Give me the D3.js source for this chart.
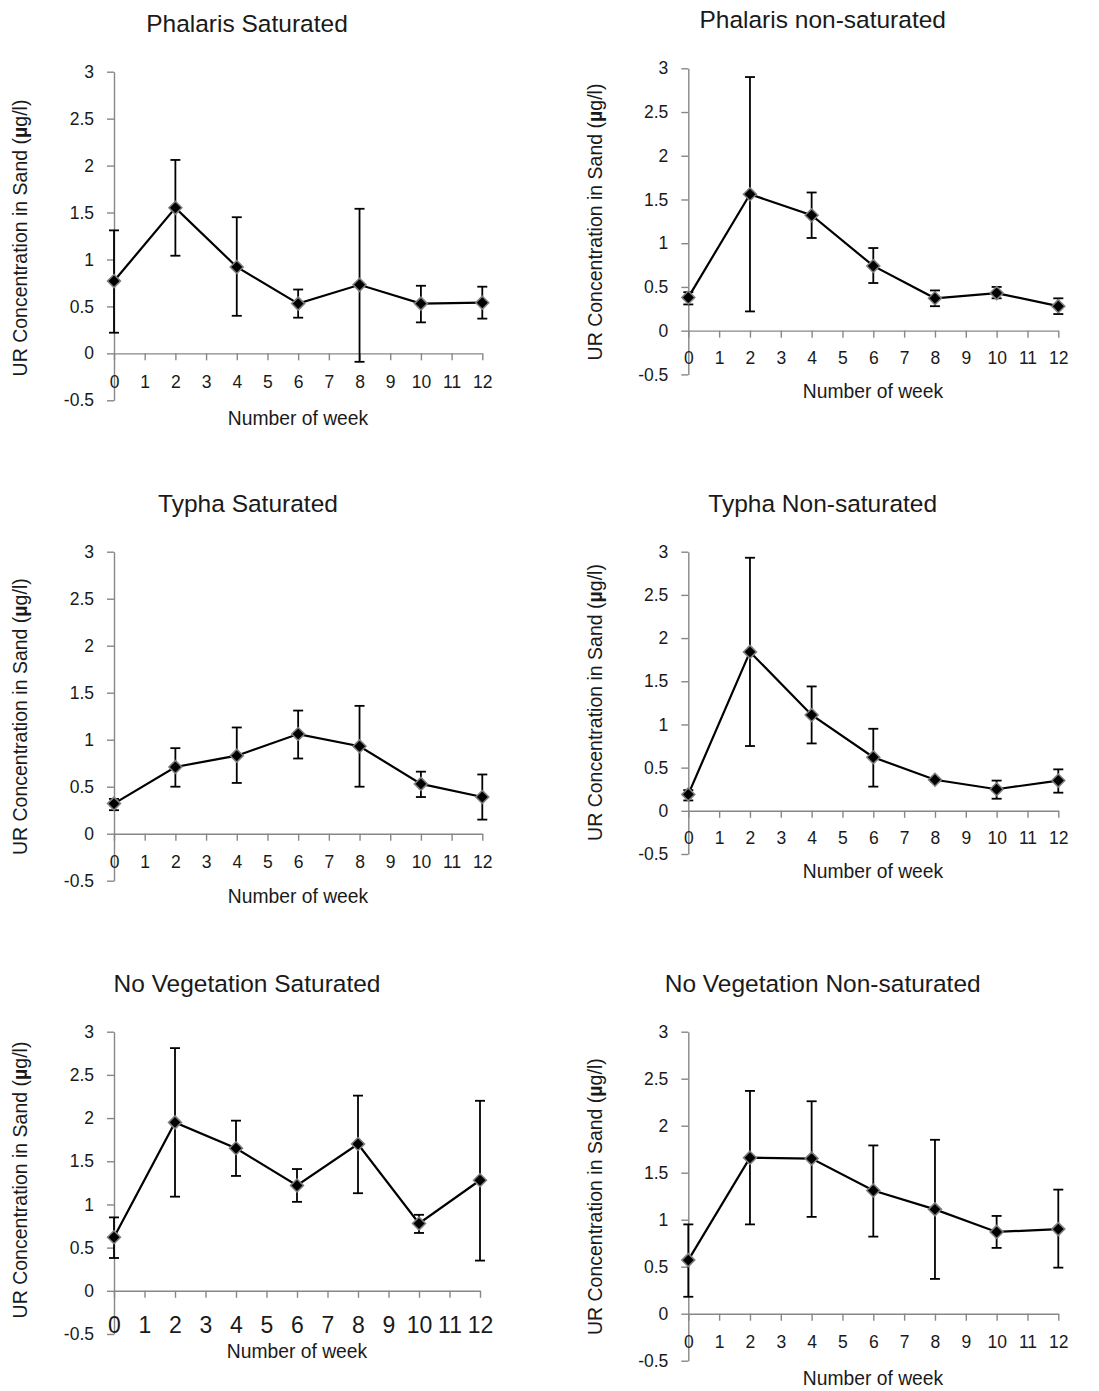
<!DOCTYPE html>
<html>
<head>
<meta charset="utf-8">
<script src="https://cdn.jsdelivr.net/npm/d3@7"></script>
<style>
  body { margin: 0; background: #fff; }
  svg text { font-family: "Liberation Sans", Arial, sans-serif; fill: #1a1a1a; }
</style>
</head>
<body>
<div id="chart"></div>
<script>
// ---------------- data ----------------
var weeks = [0, 2, 4, 6, 8, 10, 12];
var xTickValues = [0, 1, 2, 3, 4, 5, 6, 7, 8, 9, 10, 11, 12];
var yTickValues = [-0.5, 0, 0.5, 1, 1.5, 2, 2.5, 3];

var titles = [
    "Phalaris Saturated", "Phalaris non-saturated",
    "Typha Saturated", "Typha Non-saturated",
    "No Vegetation Saturated", "No Vegetation Non-saturated"
];

var phalarisSatMean = [0.77, 1.55, 0.92, 0.53, 0.73, 0.53, 0.54];
var phalarisSatHigh = [1.31, 2.06, 1.45, 0.68, 1.54, 0.72, 0.71];
var phalarisSatLow  = [0.22, 1.04, 0.40, 0.38, -0.09, 0.33, 0.37];

var phalarisNonMean = [0.38, 1.56, 1.32, 0.74, 0.37, 0.43, 0.28];
var phalarisNonHigh = [0.44, 2.90, 1.58, 0.945, 0.46, 0.50, 0.37];
var phalarisNonLow  = [0.30, 0.22, 1.06, 0.545, 0.28, 0.37, 0.19];

var typhaSatMean = [0.32, 0.71, 0.83, 1.06, 0.93, 0.53, 0.39];
var typhaSatHigh = [0.37, 0.91, 1.13, 1.31, 1.36, 0.66, 0.63];
var typhaSatLow  = [0.25, 0.50, 0.54, 0.80, 0.50, 0.39, 0.15];

var typhaNonMean = [0.19, 1.84, 1.11, 0.62, 0.36, 0.25, 0.35];
var typhaNonHigh = [0.24, 2.93, 1.44, 0.95, 0.38, 0.35, 0.48];
var typhaNonLow  = [0.12, 0.75, 0.78, 0.28, 0.34, 0.14, 0.21];

var noVegSatMean = [0.62, 1.95, 1.65, 1.22, 1.70, 0.78, 1.28];
var noVegSatHigh = [0.85, 2.81, 1.97, 1.41, 2.26, 0.88, 2.20];
var noVegSatLow  = [0.38, 1.09, 1.33, 1.03, 1.13, 0.67, 0.35];

var noVegNonMean = [0.57, 1.66, 1.65, 1.31, 1.11, 0.87, 0.90];
var noVegNonHigh = [0.95, 2.37, 2.26, 1.79, 1.85, 1.04, 1.32];
var noVegNonLow  = [0.18, 0.95, 1.03, 0.82, 0.37, 0.70, 0.49];

var series = [
    [phalarisSatMean, phalarisSatHigh, phalarisSatLow],
    [phalarisNonMean, phalarisNonHigh, phalarisNonLow],
    [typhaSatMean, typhaSatHigh, typhaSatLow],
    [typhaNonMean, typhaNonHigh, typhaNonLow],
    [noVegSatMean, noVegSatHigh, noVegSatLow],
    [noVegNonMean, noVegNonHigh, noVegNonLow]
];

// ---------------- layout of each panel ----------------
var layout = [
    {x0: 114,   x1: 482.3,  yTop: 71.7,   yBot: 400.3,  tx: 247,   ty: 31.7,  lx: 298, ly: 425,  yx: 20,  yy: 238,   tickFont: 17.5, tickPad: 15},
    {x0: 688.3, x1: 1058.3, yTop: 68.3,   yBot: 374.4,  tx: 822.7, ty: 28,    lx: 873, ly: 398,  yx: 595, yy: 222,   tickFont: 17.5, tickPad: 14},
    {x0: 114,   x1: 482.3,  yTop: 551.7,  yBot: 880.7,  tx: 248,   ty: 511.7, lx: 298, ly: 903,  yx: 20,  yy: 716.7, tickFont: 17.5, tickPad: 14.5},
    {x0: 688.3, x1: 1058.3, yTop: 551.7,  yBot: 854,    tx: 822.7, ty: 511.7, lx: 873, ly: 878,  yx: 595, yy: 702.5, tickFont: 17.5, tickPad: 14},
    {x0: 114,   x1: 480,    yTop: 1031.7, yBot: 1334,   tx: 247,   ty: 991.7, lx: 297, ly: 1358, yx: 20,  yy: 1180,  tickFont: 23, tickPad: 19},
    {x0: 688.3, x1: 1058.3, yTop: 1031.7, yBot: 1360.7, tx: 822.7, ty: 991.7, lx: 873, ly: 1385, yx: 595, yy: 1196.7, tickFont: 17.5, tickPad: 14.5}
];

var axisColor = "#878787";

var svg = d3.select("#chart")
    .append("svg")
    .attr("width", 1099)
    .attr("height", 1391)
    .style("background", "#fff");

layout.forEach(function(L, i) {
    var mean = series[i][0], high = series[i][1], low = series[i][2];
    var pts = weeks.map(function(w, k) { return {w: w, m: mean[k], hi: high[k], lo: low[k]}; });

    var x = d3.scaleLinear().domain([0, 12]).range([L.x0, L.x1]);
    var y = d3.scaleLinear().domain([-0.5, 3]).range([L.yBot, L.yTop]);

    var g = svg.append("g");

    // title
    g.append("text")
        .attr("x", L.tx).attr("y", L.ty)
        .attr("text-anchor", "middle")
        .style("font-size", "24.5px")
        .text(titles[i]);

    // y axis
    var yAxis = g.append("g")
        .attr("transform", "translate(" + L.x0 + ",0)")
        .call(d3.axisLeft(y).tickValues(yTickValues).tickSize(7).tickSizeOuter(0).tickPadding(13)
            .tickFormat(function(d) { return String(d); }));
    yAxis.selectAll("text").style("font-size", "17.5px").attr("fill", "#1a1a1a");

    // x axis at y = 0
    var xAxis = g.append("g")
        .attr("transform", "translate(0," + y(0) + ")")
        .call(d3.axisBottom(x).tickValues(xTickValues).tickSize(7).tickSizeOuter(0).tickPadding(L.tickPad)
            .tickFormat(function(d) { return String(d); }));
    xAxis.selectAll("text").style("font-size", L.tickFont + "px").attr("fill", "#1a1a1a");

    g.selectAll(".domain, .tick line")
        .attr("stroke", axisColor)
        .attr("stroke-width", 1.4);

    // axis titles
    g.append("text")
        .attr("x", L.lx).attr("y", L.ly)
        .attr("text-anchor", "middle")
        .style("font-size", "19.3px")
        .text("Number of week");

    var yl = g.append("text")
        .attr("transform", "translate(" + L.yx + "," + L.yy + ") rotate(-90)")
        .attr("text-anchor", "middle")
        .attr("dy", "0.35em")
        .style("font-size", "19.5px");
    yl.append("tspan").text("UR Concentration in Sand (");
    yl.append("tspan").style("font-weight", "bold").text("\u00b5");
    yl.append("tspan").text("g/l)");

    // line
    g.append("path")
        .datum(pts)
        .attr("fill", "none")
        .attr("stroke", "#000")
        .attr("stroke-width", 2.2)
        .attr("d", d3.line().x(function(d) { return x(d.w); }).y(function(d) { return y(d.m); }));

    // error bars
    var eb = g.append("g").selectAll("g").data(pts).enter().append("g")
        .attr("stroke", "#000").attr("stroke-width", 1.8);
    eb.append("line")
        .attr("x1", function(d) { return x(d.w); }).attr("x2", function(d) { return x(d.w); })
        .attr("y1", function(d) { return y(d.hi); }).attr("y2", function(d) { return y(d.lo); });
    eb.append("line")
        .attr("x1", function(d) { return x(d.w) - 5; }).attr("x2", function(d) { return x(d.w) + 5; })
        .attr("y1", function(d) { return y(d.hi); }).attr("y2", function(d) { return y(d.hi); });
    eb.append("line")
        .attr("x1", function(d) { return x(d.w) - 5; }).attr("x2", function(d) { return x(d.w) + 5; })
        .attr("y1", function(d) { return y(d.lo); }).attr("y2", function(d) { return y(d.lo); });

    // diamond markers
    g.append("g").selectAll("path").data(pts).enter().append("path")
        .attr("fill", "#000")
        .attr("stroke", "#808080")
        .attr("stroke-width", 1.5)
        .attr("d", function(d) {
            var cx = x(d.w), cy = y(d.m), r = 6.5;
            return "M" + cx + "," + (cy - r) + "L" + (cx + r) + "," + cy + "L" + cx + "," + (cy + r) + "L" + (cx - r) + "," + cy + "Z";
        });
});
</script>
</body>
</html>
